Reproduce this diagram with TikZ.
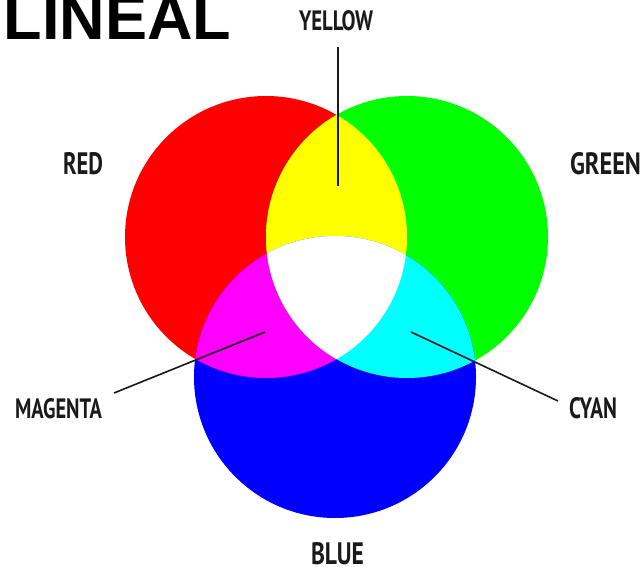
\documentclass[tikz,border=0pt]{standalone}
\usepackage{fontspec}
\setmainfont{Liberation Sans}
\newfontfamily\lblfont{PT Sans}
\newfontfamily\titlefont{Liberation Sans}
\definecolor{lblc}{HTML}{1A1A1A}
\definecolor{cRed}{RGB}{255,0,0}
\definecolor{cGreen}{RGB}{0,255,0}
\definecolor{cBlue}{RGB}{0,0,255}
\definecolor{cYellow}{RGB}{255,255,0}
\definecolor{cMagenta}{RGB}{255,0,255}
\definecolor{cCyan}{RGB}{0,255,255}
\newcommand{\lbltext}[3]{\resizebox{#1pt}{#2pt}{\lblfont\bfseries #3}}
\begin{document}
\begin{tikzpicture}[x=1pt,y=-1pt,
  lbl/.style={anchor=south west,inner sep=0pt,outer sep=0pt,text=lblc},
  leader/.style={draw=black!90,line width=1.6pt}]
\clip (0,0) rectangle (642,567);
\fill[white] (0,0) rectangle (642,567);
% circle centres
\coordinate (cR) at (266,237);
\coordinate (cG) at (407,237);
\coordinate (cB) at (335,377);
\def\rad{141}
% primary fills
\fill[cRed] (cR) circle (\rad);
\fill[cGreen] (cG) circle (\rad);
\fill[cBlue] (cB) circle (\rad);
% overlaps
\begin{scope}
  \clip (cR) circle (\rad);
  \fill[cYellow] (cG) circle (\rad);
  \fill[cMagenta] (cB) circle (\rad);
\end{scope}
\begin{scope}
  \clip (cG) circle (\rad);
  \fill[cCyan] (cB) circle (\rad);
\end{scope}
\begin{scope}
  \clip (cR) circle (\rad);
  \clip (cG) circle (\rad);
  \fill[white] (cB) circle (\rad);
\end{scope}
% title
\node[anchor=base west,inner sep=0pt] (title) at (3.5,39.5) {\fontsize{63}{63}\selectfont\titlefont\bfseries LINEAL};
% labels
\node[lbl] (yellowL) at (299,31) {\lbltext{74}{20}{YELLOW}};
\node[lbl] (redL) at (63,175) {\lbltext{40}{22}{RED}};
\node[lbl] (greenL) at (570,175) {\lbltext{71}{22}{GREEN}};
\node[lbl] (magentaL) at (15,419) {\lbltext{87}{20}{MAGENTA}};
\node[lbl] (cyanL) at (569,419) {\lbltext{48}{21}{CYAN}};
\node[lbl] (blueL) at (311,565) {\lbltext{53}{22}{BLUE}};
% leader ends
\coordinate (yTop) at (338,47);
\coordinate (yIn) at (338,186);
\coordinate (mOut) at (114,393);
\coordinate (mIn) at (265,332);
\coordinate (cOut) at (558,401);
\coordinate (cIn) at (411,332);
\draw[leader] (yTop) -- (yIn);
\draw[leader] (mOut) -- (mIn);
\draw[leader] (cOut) -- (cIn);
\end{tikzpicture}
\end{document}
